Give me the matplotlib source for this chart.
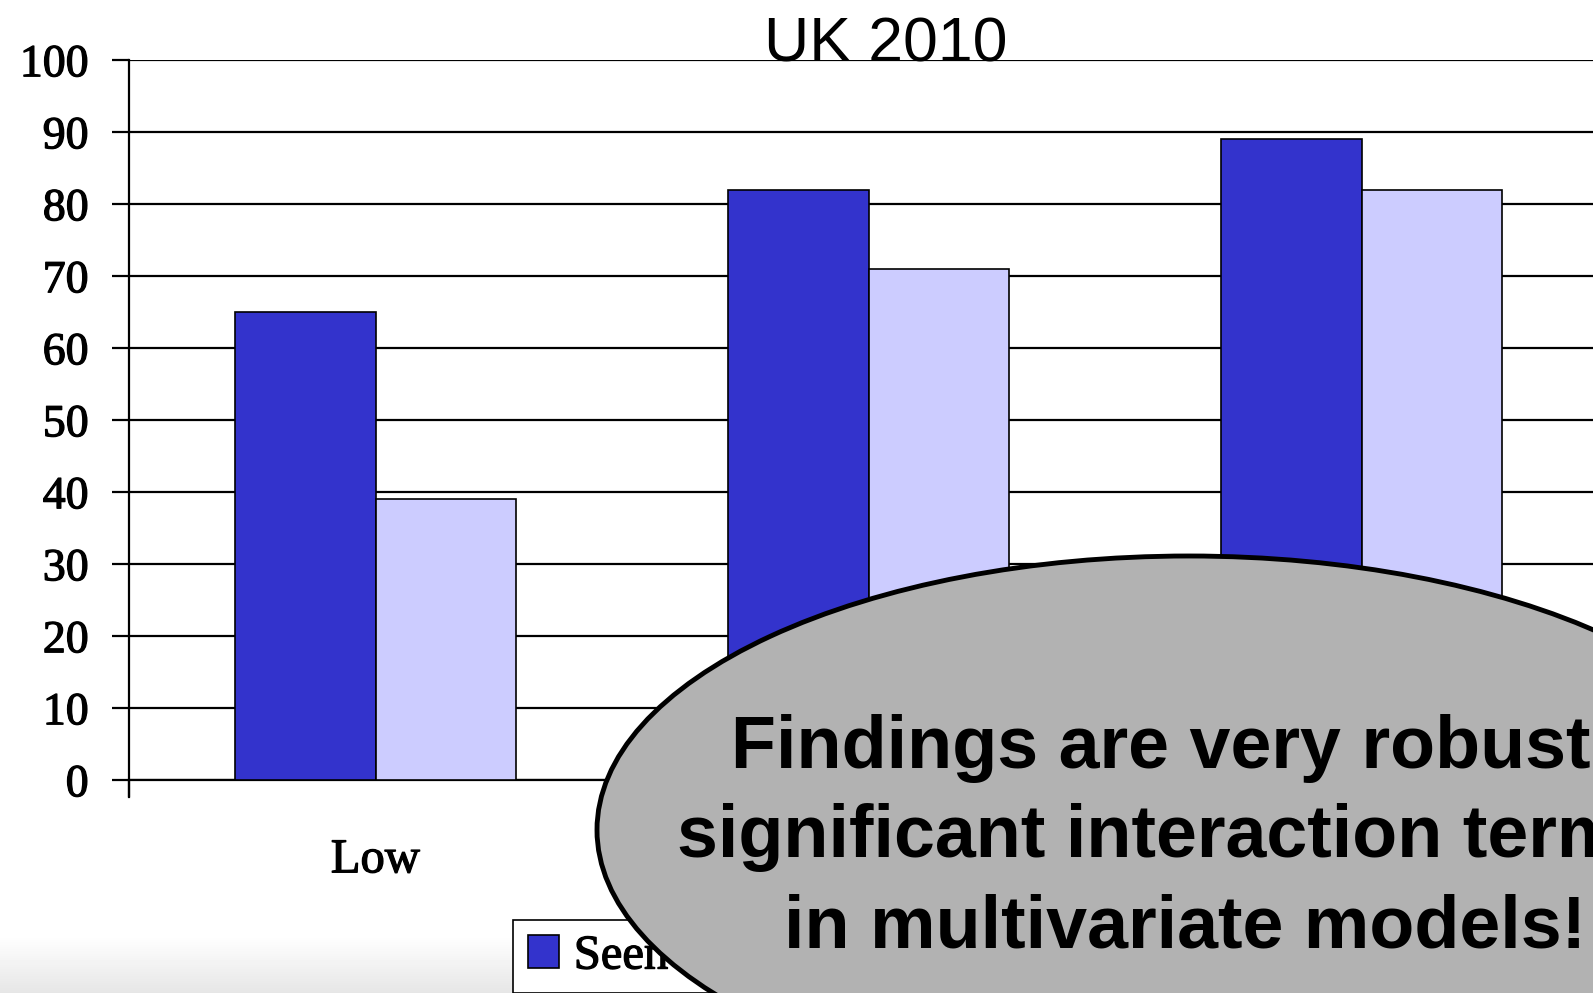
import matplotlib.pyplot as plt
import matplotlib.patheffects as pe
import numpy as np
from matplotlib.patches import Ellipse

# attention to the campaign, by political interest
categories = ["Low", "Medium", "High"]
seen = [65, 82, 89]
not_seen = [39, 71, 82]
series_names = ["Seen debates", "Did not see debates"]
yticks = list(range(0, 101, 10))

W, H = 1593, 993


def main():
    fig = plt.figure(figsize=(W / 100, H / 100), dpi=100)

    # faint grey fade along the bottom edge of the slide
    bg = fig.add_axes([0, 0, 1, 1], zorder=-5)
    grad = np.ones((H, 1))
    fade = np.clip((np.arange(H) - 935) / (H - 935), 0, 1)
    grad[:, 0] = 1 - 0.1 * fade
    bg.imshow(grad, aspect="auto", cmap="gray", vmin=0, vmax=1, extent=[0, 1, 0, 1])
    bg.axis("off")

    ax = fig.add_axes([129 / W, 1 - 780 / H, 1479 / W, 720 / H])
    ax.set_facecolor("none")
    x = np.arange(len(categories))
    w = 1 / 3.5
    ax.bar(x - w / 2, seen, w, color="#3333cc", edgecolor="black", linewidth=1.2,
           label=series_names[0], zorder=3)
    ax.bar(x + w / 2, not_seen, w, color="#ccccff", edgecolor="black", linewidth=1.2,
           label=series_names[1], zorder=3)

    ax.set_xlim(-0.5, len(categories) - 0.5)
    ax.set_ylim(0, 100)
    ax.set_yticks(yticks)
    ax.yaxis.grid(True, color="black", linewidth=1.6, zorder=0)
    ax.set_axisbelow(True)
    for s in ["top", "right"]:
        ax.spines[s].set_visible(False)
    ax.spines["left"].set_linewidth(1.6)
    ax.spines["bottom"].set_linewidth(1.6)
    ax.spines["left"].set_bounds(-2.3, 100)

    # slightly heavier serif labels
    thick = [pe.withStroke(linewidth=0.9, foreground="black")]
    ax.set_xticks(x)
    ax.set_xticklabels(categories, fontsize=35, family="Liberation Serif")
    ax.set_xticks(np.arange(len(categories) + 1) - 0.5, minor=True)
    ax.tick_params(axis="x", which="major", length=0, pad=42)
    ax.tick_params(axis="x", which="minor", length=12, width=1.6, direction="out")
    ax.tick_params(axis="y", length=12, width=1.6, pad=17)
    for lab in ax.get_yticklabels():
        lab.set_fontsize(33)
        lab.set_family("Liberation Serif")
        lab.set_path_effects(thick)
    for lab in ax.get_xticklabels():
        lab.set_path_effects(thick)

    leg = ax.legend(loc="upper left", bbox_to_anchor=(513 / W, 1 - 920 / H),
                    bbox_transform=fig.transFigure, ncol=2,
                    prop={"family": "Liberation Serif", "size": 35},
                    frameon=True, fancybox=False, edgecolor="black", framealpha=1,
                    borderaxespad=0, borderpad=0.3, handlelength=0.65,
                    handleheight=0.65, handletextpad=0.3, columnspacing=1.0)
    leg.get_frame().set_linewidth(1.2)
    for t in leg.get_texts():
        t.set_path_effects(thick)

    # callout drawn over the chart
    ov = fig.add_axes([0, 0, 1, 1], zorder=10)
    ov.set_xlim(0, W)
    ov.set_ylim(H, 0)
    ov.axis("off")
    ov.text(886, 61, "UK 2010", fontsize=45, family="Liberation Sans",
            ha="center", va="baseline")
    ov.add_patch(Ellipse((1189, 830), 2 * 592, 2 * 274, facecolor="#b2b2b2",
                         edgecolor="black", linewidth=3.5))
    lines = ["Findings are very robust:", "significant interaction terms",
             "in multivariate models!"]
    centers = [1173, 1170, 1185]
    for i, line in enumerate(lines):
        ov.text(centers[i], 768 + i * 89.5, line, fontsize=53, family="Liberation Sans",
                fontweight="bold", ha="center", va="baseline")

    fig.savefig("out.png", dpi=100)


if __name__ == '__main__':
    main()
